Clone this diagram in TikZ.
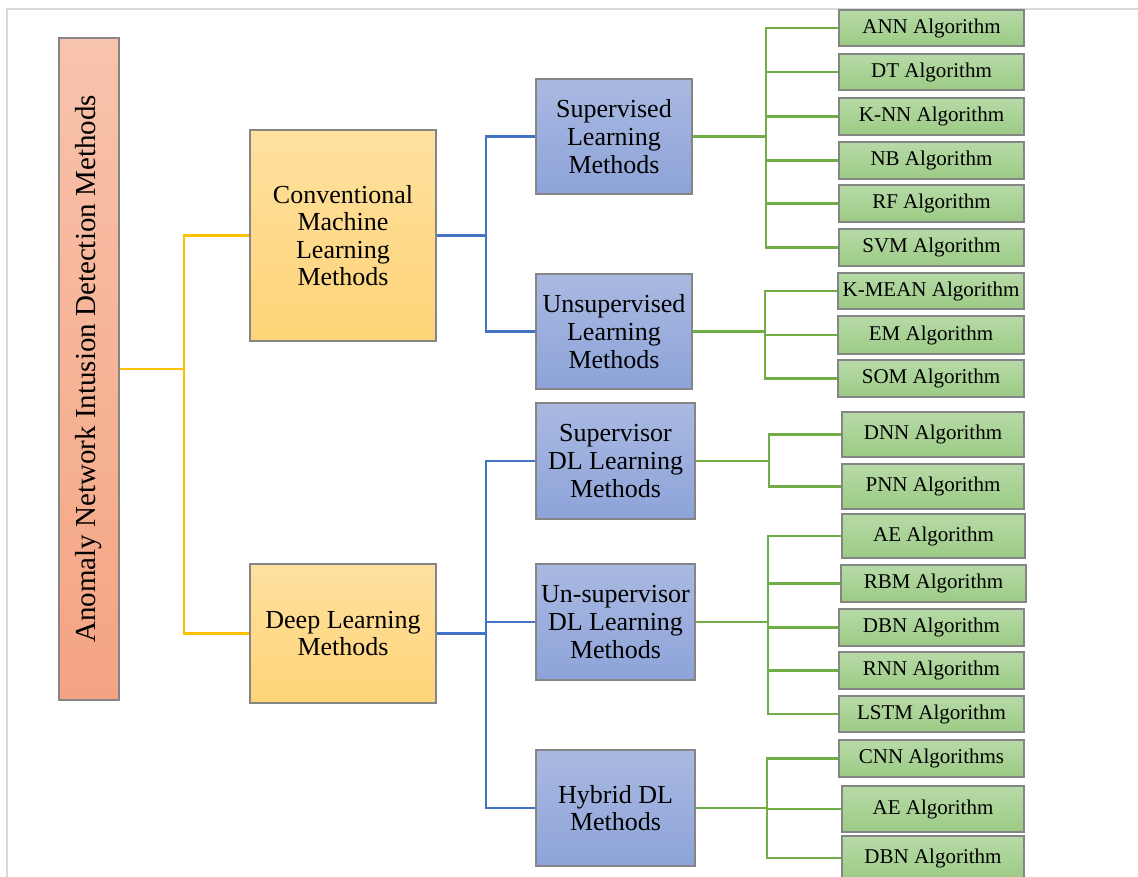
\documentclass[tikz,border=0pt]{standalone}
\usepackage{fontspec}
\setmainfont{Liberation Serif}
\definecolor{rootT}{HTML}{F8C3AC}
\definecolor{rootB}{HTML}{F4A482}
\definecolor{ylT}{HTML}{FEE09F}
\definecolor{ylB}{HTML}{FED477}
\definecolor{blT}{HTML}{A9B9E1}
\definecolor{blB}{HTML}{8DA3D9}
\definecolor{grT}{HTML}{B7DAA7}
\definecolor{grB}{HTML}{9CCB85}
\definecolor{bordergray}{HTML}{858585}
\definecolor{frame}{HTML}{D9D9D9}
\definecolor{lnY}{HTML}{FFC000}
\definecolor{lnB}{HTML}{4472C4}
\definecolor{lnG}{HTML}{70AD47}
\tikzset{
  basebox/.style={draw=bordergray, line width=1.1pt, inner sep=0pt, align=center},
  rootbox/.style={basebox, top color=rootT, bottom color=rootB, minimum width=60pt, minimum height=662pt},
  catbox/.style={basebox, top color=ylT, bottom color=ylB, font=\fontsize{26}{27.5}\selectfont},
  midbox/.style={basebox, top color=blT, bottom color=blB, font=\fontsize{26}{27.7}\selectfont},
  leaf/.style={basebox, top color=grT, bottom color=grB, font=\fontsize{21}{24}\selectfont},
  yline/.style={draw=lnY, line width=2.8pt},
  bline/.style={draw=lnB, line width=2.8pt},
  gline/.style={draw=lnG, line width=2.8pt}
}
\begin{document}
\begin{tikzpicture}[x=1pt,y=-1pt]
\useasboundingbox (0,0) rectangle (1138,876);
\clip (0,0) rectangle (1138,876);
\draw[frame, line width=2pt] (7,877) -- (7,9) -- (1139,9);

% root
\node[rootbox] (root) at (89,369) {};
\node[rotate=90, font=\fontsize{29}{32}\selectfont] (roottext) at (root.center) {Anomaly Network Intusion Detection Methods};

% categories
\node[catbox, minimum width=186pt, minimum height=211pt] (conv) at (343,235.5) {Conventional\\Machine\\Learning\\Methods};
\node[catbox, minimum width=186pt, minimum height=139pt] (deep) at (343,633.5) {Deep Learning\\Methods};

% methods
\node[midbox, minimum width=156pt, minimum height=115pt] (sup) at (614,136.5) {Supervised\\Learning\\Methods};
\node[midbox, minimum width=156pt, minimum height=115pt] (unsup) at (614,331.5) {Unsupervised\\Learning\\Methods};
\node[midbox, minimum width=159pt, minimum height=116pt] (sdl) at (615.5,461) {Supervisor\\DL Learning\\Methods};
\node[midbox, minimum width=159pt, minimum height=116pt] (udl) at (615.5,622) {Un-supervisor\\DL Learning\\Methods};
\node[midbox, minimum width=159pt, minimum height=116pt] (hyb) at (615.5,808) {Hybrid DL\\Methods};

% leaves
\node[leaf, minimum width=185pt, minimum height=36pt] (ann) at (931.5,28) {ANN Algorithm};
\node[leaf, minimum width=185pt, minimum height=36pt] (dt) at (931.5,72) {DT Algorithm};
\node[leaf, minimum width=185pt, minimum height=37pt] (knn) at (931.5,116.5) {K-NN Algorithm};
\node[leaf, minimum width=185pt, minimum height=37pt] (nb) at (931.5,160.5) {NB Algorithm};
\node[leaf, minimum width=185pt, minimum height=37pt] (rf) at (931.5,203.5) {RF Algorithm};
\node[leaf, minimum width=185pt, minimum height=37pt] (svm) at (931.5,247.5) {SVM Algorithm};
\node[leaf, minimum width=186pt, minimum height=36pt] (kmean) at (931,291) {K-MEAN Algorithm};
\node[leaf, minimum width=186pt, minimum height=38pt] (em) at (931,335) {EM Algorithm};
\node[leaf, minimum width=186pt, minimum height=37pt] (som) at (931,378.5) {SOM Algorithm};
\node[leaf, minimum width=182pt, minimum height=45pt] (dnn) at (933,434.5) {DNN Algorithm};
\node[leaf, minimum width=182pt, minimum height=45pt] (pnn) at (933,486.5) {PNN Algorithm};
\node[leaf, minimum width=183pt, minimum height=44pt] (ae) at (933.5,536) {AE Algorithm};
\node[leaf, minimum width=185pt, minimum height=37pt] (rbm) at (933.5,583.5) {RBM Algorithm};
\node[leaf, minimum width=185pt, minimum height=37pt] (dbn) at (931.5,627.5) {DBN Algorithm};
\node[leaf, minimum width=185pt, minimum height=37pt] (rnn) at (931.5,670.5) {RNN Algorithm};
\node[leaf, minimum width=185pt, minimum height=36pt] (lstm) at (931.5,714) {LSTM Algorithm};
\node[leaf, minimum width=185pt, minimum height=37pt] (cnn) at (931.5,758.5) {CNN Algorithms};
\node[leaf, minimum width=182pt, minimum height=46pt] (ae2) at (933,809) {AE Algorithm};
\node[leaf, minimum width=182pt, minimum height=44pt] (dbn2) at (933,858) {DBN Algorithm};

% bus coordinates
\coordinate (b1) at (184,369);
\coordinate (b2) at (486,235.5);
\coordinate (b3) at (486,633.5);
\coordinate (b4) at (766,136.5);
\coordinate (b5) at (765,331.5);
\coordinate (b6) at (769,461);
\coordinate (b7) at (768,622);
\coordinate (b8) at (767,808);

% yellow
\draw[yline] (root.east) -- (b1);
\draw[yline] (conv.west) -| (b1) |- (deep.west);
% blue
\draw[bline] (conv.east) -- (b2);
\draw[bline] (sup.west) -| (b2) |- (unsup.west);
\draw[bline] (deep.east) -- (b3);
\draw[bline] (sdl.west) -| (b3) |- (hyb.west);
\draw[bline] (udl.west) -- (udl.west -| b3);
% green
\draw[gline] (sup.east) -- (b4);
\draw[gline] (ann.west) -| (b4) |- (svm.west);
\foreach \n in {dt,knn,nb,rf} \draw[gline] (\n.west) -- (\n.west -| b4);
\draw[gline] (unsup.east) -- (b5);
\draw[gline] (kmean.west) -| (b5) |- (som.west);
\draw[gline] (em.west) -- (em.west -| b5);
\draw[gline] (sdl.east) -- (b6);
\draw[gline] (dnn.west) -| (b6) |- (pnn.west);
\draw[gline] (udl.east) -- (b7);
\draw[gline] (ae.west) -| (b7) |- (lstm.west);
\foreach \n in {rbm,dbn,rnn} \draw[gline] (\n.west) -- (\n.west -| b7);
\draw[gline] (hyb.east) -- (b8);
\draw[gline] (cnn.west) -| (b8) |- (dbn2.west);
\draw[gline] (ae2.west) -- (ae2.west -| b8);
\end{tikzpicture}
\end{document}
